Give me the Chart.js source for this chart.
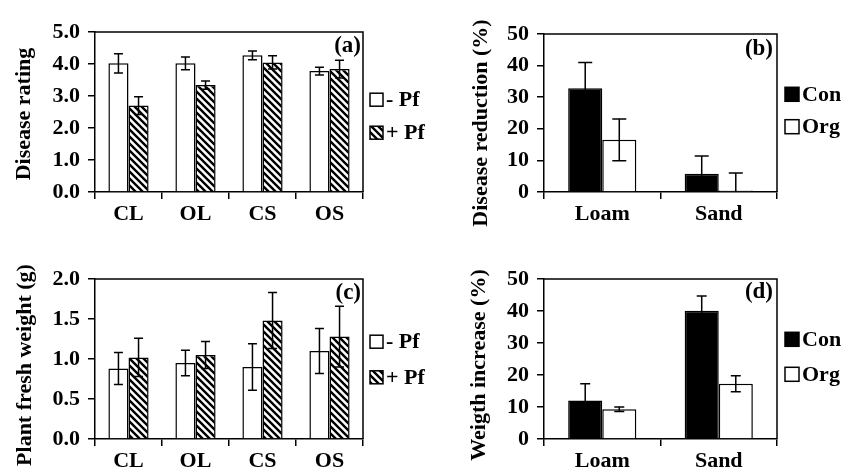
<!DOCTYPE html>
<html>
<head>
<meta charset="utf-8">
<script src="https://cdn.jsdelivr.net/npm/chart.js@4.4.1/dist/chart.umd.min.js"></script>
<style>
  html, body { margin: 0; padding: 0; background: #fff; }
  body { width: 848px; height: 473px; position: relative; overflow: hidden; }
  canvas { position: absolute; }
</style>
</head>
<body>
<canvas id="pa" width="430" height="236" style="left:0;top:0"></canvas>
<canvas id="pb" width="418" height="236" style="left:430px;top:0"></canvas>
<canvas id="pc" width="430" height="237" style="left:0;top:236px"></canvas>
<canvas id="pd" width="418" height="237" style="left:430px;top:236px"></canvas>
<script>
// ---------- data ----------
const treatments = ['CL', 'OL', 'CS', 'OS'];
const soils = ['Loam', 'Sand'];

const ratingMinusPf    = [4.02, 4.02, 4.27, 3.78];
const ratingMinusPfErr = [0.30, 0.20, 0.14, 0.12];
const ratingPlusPf     = [2.70, 3.34, 4.05, 3.84];
const ratingPlusPfErr  = [0.28, 0.13, 0.21, 0.28];

const reductionCon    = [32.8, 5.8];
const reductionConErr = [8.2, 5.6];
const reductionOrg    = [16.5, 0.5];
const reductionOrgErr = [6.6, 5.5];

const weightMinusPf    = [0.88, 0.95, 0.90, 1.10];
const weightMinusPfErr = [0.20, 0.16, 0.29, 0.28];
const weightPlusPf     = [1.02, 1.05, 1.48, 1.28];
const weightPlusPfErr  = [0.24, 0.17, 0.35, 0.38];

const increaseCon    = [12.0, 40.1];
const increaseConErr = [5.3, 4.6];
const increaseOrg    = [9.3, 17.3];
const increaseOrgErr = [0.7, 2.5];

const ticksRating  = ['0.0', '1.0', '2.0', '3.0', '4.0', '5.0'];
const ticksPercent = ['0', '10', '20', '30', '40', '50'];
const ticksWeight  = ['0.0', '0.5', '1.0', '1.5', '2.0'];

const legendPf  = ['- Pf', '+ Pf'];
const legendSys = ['Con', 'Org'];

// ---------- styling ----------
const FONT = "'Liberation Serif', 'Times New Roman', serif";
Chart.defaults.font.family = FONT;
Chart.defaults.color = '#000';

function makeHatch() {
  const s = 7;
  const c = document.createElement('canvas');
  c.width = s; c.height = s;
  const g = c.getContext('2d');
  g.fillStyle = '#fff';
  g.fillRect(0, 0, s, s);
  g.strokeStyle = '#000';
  g.lineWidth = 2.4;
  g.beginPath();
  g.moveTo(-2, -2); g.lineTo(s + 2, s + 2);
  g.moveTo(s - 2, -2); g.lineTo(s + 2, 2);
  g.moveTo(-2, s - 2); g.lineTo(2, s + 2);
  g.stroke();
  return g.createPattern(c, 'repeat');
}
const hatch = makeHatch();

function makePanel(p) {
  const canvas = document.getElementById(p.id);
  const ctx0 = canvas.getContext('2d');
  const decor = {
    id: 'decor',
    afterDatasetsDraw(chart) {
      const ctx = chart.ctx;
      const ys = chart.scales.y;
      const a = chart.chartArea;
      ctx.save();
      ctx.beginPath();
      ctx.rect(a.left - 20, a.top - 20, a.right - a.left + 40, a.bottom - a.top + 20);
      ctx.clip();
      ctx.strokeStyle = '#000';
      ctx.lineWidth = 1.5;
      ctx.beginPath();
      chart.data.datasets.forEach((ds, i) => {
        const meta = chart.getDatasetMeta(i);
        meta.data.forEach((el, j) => {
          const v = ds.data[j], e = p.errors[i][j];
          const x = el.x;
          const y1 = ys.getPixelForValue(v + e);
          const y2 = ys.getPixelForValue(v - e);
          const h = p.capW / 2;
          ctx.moveTo(x, y1); ctx.lineTo(x, y2);
          ctx.moveTo(x - h, y1); ctx.lineTo(x + h, y1);
          ctx.moveTo(x - h, y2); ctx.lineTo(x + h, y2);
        });
      });
      ctx.stroke();
      ctx.restore();
    },
    afterDraw(chart) {
      const ctx = chart.ctx;
      const a = chart.chartArea;
      ctx.save();
      // frame top & right
      ctx.strokeStyle = '#000';
      ctx.lineWidth = 1.5;
      ctx.beginPath();
      ctx.moveTo(a.left, a.top); ctx.lineTo(a.right, a.top); ctx.lineTo(a.right, a.bottom);
      ctx.stroke();
      // panel letter
      ctx.fillStyle = '#000';
      ctx.font = 'bold 23px ' + FONT;
      ctx.textAlign = 'right';
      ctx.textBaseline = 'middle';
      ctx.fillText(p.letter, p.letterX, p.letterY);
      // y title
      ctx.save();
      ctx.translate(p.titleX, p.titleY);
      ctx.rotate(-Math.PI / 2);
      ctx.textAlign = 'center';
      ctx.font = 'bold 22px ' + FONT;
      ctx.fillText(p.yTitle, 0, 0);
      ctx.restore();
      // legend
      ctx.font = 'bold 22px ' + FONT;
      ctx.textAlign = 'left';
      ctx.textBaseline = 'middle';
      chart.data.datasets.forEach((ds, i) => {
        const cy = p.legendY[i];
        const b = p.box;
        ctx.fillStyle = ds.backgroundColor;
        ctx.fillRect(p.legendX, cy - b / 2, b, b);
        ctx.lineWidth = 1.5;
        ctx.strokeStyle = '#000';
        ctx.strokeRect(p.legendX, cy - b / 2, b, b);
        ctx.fillStyle = '#000';
        ctx.fillText(p.legendText[i], p.legendX + b + 3, cy + 1);
      });
      ctx.restore();
    }
  };

  return new Chart(ctx0, {
    type: 'bar',
    data: {
      labels: p.labels,
      datasets: p.series.map((s, i) => ({
        label: p.legendText[i],
        data: s,
        backgroundColor: p.fills[i],
        borderColor: '#000',
        borderWidth: 1.5,
        categoryPercentage: p.catPct,
        barPercentage: 1.0
      }))
    },
    options: {
      responsive: false,
      animation: false,
      devicePixelRatio: 1,
      layout: { padding: { left: 0, top: p.padTop, right: p.padRight, bottom: 0 } },
      plugins: { legend: { display: false }, tooltip: { enabled: false }, title: { display: false } },
      scales: {
        x: {
          grid: { display: true, drawOnChartArea: false, drawTicks: true, tickLength: 7, color: '#000', lineWidth: 1.5, offset: true },
          border: { display: true, color: '#000', width: 1.5 },
          ticks: { font: { size: 22, weight: 'bold' }, color: '#000', padding: 2, maxRotation: 0 },
          afterFit: (ax) => { ax.height = p.xH; }
        },
        y: {
          min: 0, max: p.yMax,
          grid: { display: true, drawOnChartArea: false, drawTicks: true, tickLength: 7, color: '#000', lineWidth: 1.5 },
          border: { display: true, color: '#000', width: 1.5 },
          ticks: {
            stepSize: p.step,
            font: { size: 22, weight: 'bold' }, color: '#000', padding: 8,
            callback: (v, i) => p.tickLabels[i]
          },
          afterFit: (ax) => { ax.width = p.yW; }
        }
      }
    },
    plugins: [decor]
  });
}

makePanel({
  id: 'pa', labels: treatments,
  series: [ratingMinusPf, ratingPlusPf], errors: [ratingMinusPfErr, ratingPlusPfErr],
  fills: ['#fff', hatch], legendText: legendPf,
  yMax: 5, step: 1, tickLabels: ticksRating,
  padTop: 32, padRight: 67, yW: 95, xH: 44, catPct: 0.6, capW: 9,
  letter: '(a)', letterX: 361, letterY: 46,
  yTitle: 'Disease rating', titleX: 24, titleY: 114,
  legendX: 370, legendY: [99.7, 132.7], box: 13
});

makePanel({
  id: 'pb', labels: soils,
  series: [reductionCon, reductionOrg], errors: [reductionConErr, reductionOrgErr],
  fills: ['#000', '#fff'], legendText: legendSys,
  yMax: 50, step: 10, tickLabels: ticksPercent,
  padTop: 34, padRight: 71, yW: 114, xH: 44, catPct: 0.585, capW: 14,
  letter: '(b)', letterX: 343, letterY: 49,
  yTitle: 'Disease reduction (%)', titleX: 51, titleY: 123,
  legendX: 355, legendY: [94.3, 126.7], box: 14
});

makePanel({
  id: 'pc', labels: treatments,
  series: [weightMinusPf, weightPlusPf], errors: [weightMinusPfErr, weightPlusPfErr],
  fills: ['#fff', hatch], legendText: legendPf,
  yMax: 2, step: 0.5, tickLabels: ticksWeight,
  padTop: 43, padRight: 67, yW: 95, xH: 34, catPct: 0.6, capW: 9,
  letter: '(c)', letterX: 361, letterY: 57,
  yTitle: 'Plant fresh weight (g)', titleX: 25, titleY: 129,
  legendX: 370, legendY: [105.7, 141.3], box: 13
});

makePanel({
  id: 'pd', labels: soils,
  series: [increaseCon, increaseOrg], errors: [increaseConErr, increaseOrgErr],
  fills: ['#000', '#fff'], legendText: legendSys,
  yMax: 50, step: 10, tickLabels: ticksPercent,
  padTop: 43, padRight: 71, yW: 114, xH: 34, catPct: 0.585, capW: 10,
  letter: '(d)', letterX: 343, letterY: 56,
  yTitle: 'Weigth increase (%)', titleX: 49, titleY: 129,
  legendX: 355, legendY: [103.3, 138.3], box: 14
});
</script>
</body>
</html>
